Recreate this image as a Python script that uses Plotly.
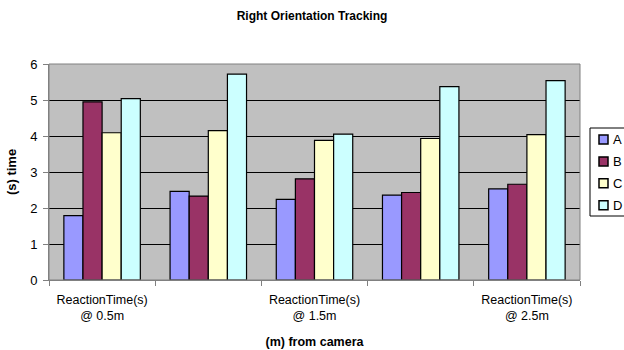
import plotly.graph_objects as go

# Reaction time per camera distance, four trackers
categories = ["ReactionTime(s) @ 0.5m", "ReactionTime(s) @ 1.0m", "ReactionTime(s) @ 1.5m",
              "ReactionTime(s) @ 2.0m", "ReactionTime(s) @ 2.5m"]
tick_text = ["ReactionTime(s)<br>@ 0.5m", "", "ReactionTime(s)<br>@ 1.5m", "", "ReactionTime(s)<br>@ 2.5m"]
series_a = [1.79, 2.46, 2.24, 2.36, 2.53]
series_b = [4.95, 2.33, 2.81, 2.43, 2.66]
series_c = [4.09, 4.15, 3.88, 3.93, 4.04]
series_d = [5.04, 5.72, 4.05, 5.37, 5.54]
series_names = ["A", "B", "C", "D"]
series_colors = ["#9999FF", "#993366", "#FFFFCC", "#CCFFFF"]

W, H = 624, 350
ML, MR, MT, MB = 49, 44, 64, 70
PW, PH = W - ML - MR, H - MT - MB

fig = go.Figure()
for name, vals, col in zip(series_names, [series_a, series_b, series_c, series_d], series_colors):
    fig.add_trace(go.Bar(
        x=categories, y=vals, name=name, showlegend=False,
        marker=dict(color=col, line=dict(color="black", width=1.2)),
    ))

font_family = "Liberation Sans, Arial, sans-serif"
fig.update_layout(
    width=W, height=H,
    margin=dict(l=ML, r=MR, t=MT, b=MB, autoexpand=False),
    paper_bgcolor="white",
    plot_bgcolor="#C0C0C0",
    font=dict(family=font_family, size=12, color="black"),
    title=dict(text="<b>Right Orientation Tracking</b>", x=0.5, xanchor="center",
               y=0.955, yanchor="middle", font=dict(size=12)),
    barmode="group", bargap=0.28, bargroupgap=0,
    xaxis=dict(
        type="category", tickvals=categories, ticktext=tick_text,
        tickson="boundaries", ticks="outside", ticklen=5, tickcolor="#808080",
        showline=True, linecolor="#808080", linewidth=1,
        showgrid=False, tickfont=dict(size=12.5), ticklabelstandoff=8,
        title=dict(text="<b>(m) from camera</b>", font=dict(size=12.5), standoff=14),
    ),
    yaxis=dict(
        range=[0, 6], dtick=1, ticks="outside", ticklen=5, tickcolor="#808080",
        showline=True, linecolor="#808080", linewidth=1,
        showgrid=True, gridcolor="black", gridwidth=1, zeroline=False,
        tickfont=dict(size=13), ticklabelstandoff=3,
        title=dict(text="<b>(s) time</b>", font=dict(size=13), standoff=10),
    ),
)
# gray frame around the plotting area
fig.add_shape(type="rect", xref="paper", yref="paper", x0=0, y0=0, x1=1, y1=1,
              line=dict(color="#808080", width=1), layer="above")


# compact legend box at the right edge (pixel layout converted to paper units)
def px_x(p):
    return (p - ML) / PW


def px_y(p):
    return (H - MB - p) / PH


box_left, box_top, box_bottom = 590, 128, 216
fig.add_shape(type="rect", xref="paper", yref="paper",
              x0=px_x(box_left), x1=px_x(W + 5), y0=px_y(box_bottom), y1=px_y(box_top),
              line=dict(color="black", width=1), fillcolor="white", layer="above")
row_y0, row_step, sw = 139.5, 21.9, 9
for i, (name, col) in enumerate(zip(series_names, series_colors)):
    cy = row_y0 + i * row_step
    fig.add_shape(type="rect", xref="paper", yref="paper",
                  x0=px_x(599), x1=px_x(599 + sw), y0=px_y(cy + sw / 2), y1=px_y(cy - sw / 2),
                  line=dict(color="black", width=1.5), fillcolor=col, layer="above")
    fig.add_annotation(text=name, xref="paper", yref="paper", x=px_x(611), y=px_y(cy),
                       xanchor="left", yanchor="middle", showarrow=False,
                       font=dict(size=13))

fig.write_html("out.html")
